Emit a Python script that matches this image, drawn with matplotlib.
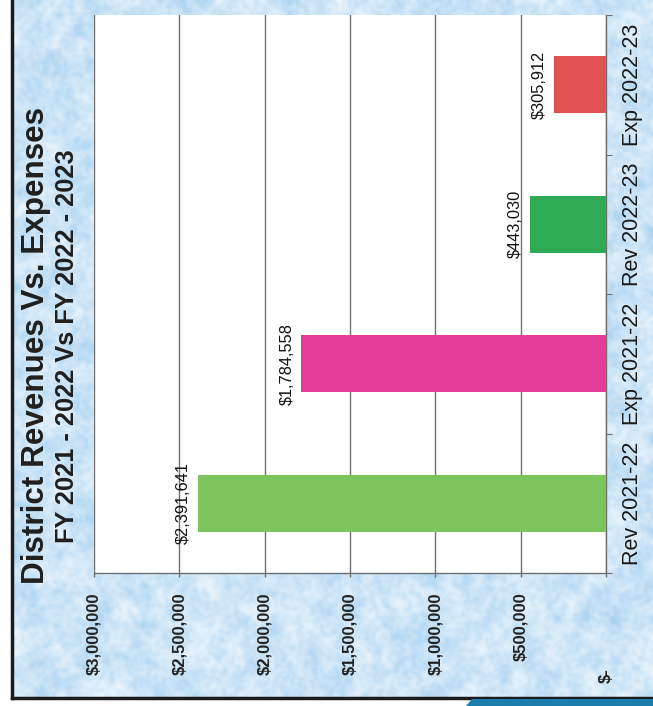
import numpy as np
import matplotlib.pyplot as plt
from matplotlib.colors import LinearSegmentedColormap
from matplotlib.patches import Polygon
from matplotlib.ticker import FuncFormatter, MultipleLocator

plt.rcParams['font.family'] = ['Liberation Sans', 'DejaVu Sans']

categories = ["Rev 2021-22", "Exp 2021-22", "Rev 2022-23", "Exp 2022-23"]
amounts = [2391641, 1784558, 443030, 305912]
bar_colors = ["#7CC45B", "#E43D97", "#2EAA55", "#E05252"]

title = "District Revenues Vs. Expenses"
subtitle = "FY 2021 - 2022 Vs FY 2022 - 2023"

W, H = 653, 706
fig = plt.figure(figsize=(W / 100, H / 100), dpi=100)
fig.patch.set_facecolor("white")

# tissue-paper style backdrop for the slide panel
rng = np.random.default_rng(7)
paper = LinearSegmentedColormap.from_list(
    "paper", ["#FBFDFF", "#CDE5F7", "#96C9EE"])
bg = fig.add_axes([12 / W, 1 - 698 / H, 1 - 12 / W, 698 / H], zorder=-5)
bg.imshow(rng.random((70, 64)), cmap=paper, interpolation="bicubic",
          aspect="auto", extent=(0, 1, 0, 1), vmin=-0.05, vmax=1.05)
bg.imshow(rng.random((230, 210)), cmap=paper, interpolation="bicubic",
          aspect="auto", extent=(0, 1, 0, 1), alpha=0.4)
bg.set_xlim(0, 1)
bg.set_ylim(0, 1)
bg.set_axis_off()

fig.add_artist(plt.Line2D([12 / W, 12 / W], [1 - 698 / H, 1],
                          transform=fig.transFigure, color="#1c1c1c", lw=2.5,
                          zorder=-1))
fig.add_artist(plt.Line2D([12 / W, 1], [1 - 698 / H, 1 - 698 / H],
                          transform=fig.transFigure, color="#1c1c1c", lw=2.5,
                          zorder=-1))
# teal band at the bottom right corner
fig.patches.append(Polygon([(472 / W, 1 - 699 / H), (1, 1 - 699 / H),
                            (1, 0), (466 / W, 0)],
                           closed=True, transform=fig.transFigure,
                           facecolor="#1B7DAE", edgecolor="none", zorder=-1))

ax = fig.add_axes([94 / W, 1 - 573 / H, 512 / W, 558 / H])
ax.set_zorder(1)
ax.set_facecolor("white")

ypos = list(range(len(categories)))
ax.barh(ypos, amounts, height=0.41, color=bar_colors, zorder=3)

ax.set_xlim(3000000, 0)
ax.set_ylim(-0.5, len(categories) - 0.5)

ax.xaxis.set_major_locator(MultipleLocator(500000))


def money(v, pos):
    if v == 0:
        return ""
    return f"${v:,.0f}"


ax.xaxis.set_major_formatter(FuncFormatter(money))
ax.tick_params(axis="x", direction="out", length=3, width=1, color="#6f6f6f",
               pad=10.7, labelsize=12, labelrotation=90)
for lbl in ax.get_xticklabels():
    lbl.set_fontweight("bold")
    lbl.set_color("#222222")
ax.annotate("$-", xy=(0, 0), xycoords=("data", "axes fraction"),
            xytext=(0, -95), textcoords="offset pixels", rotation=90,
            ha="center", va="top", fontsize=12, fontweight="bold",
            color="#222222", annotation_clip=False)

ax.grid(axis="x", color="#6f6f6f", lw=1, zorder=1)

# category axis on the right, boundary ticks plus centred labels
ax.yaxis.tick_right()
ax.set_yticks([i - 0.5 for i in range(len(categories) + 1)])
ax.set_yticklabels([])
ax.set_yticks(ypos, minor=True)
ax.set_yticklabels(categories, minor=True, rotation=90, va="center",
                   fontsize=15.5, color="#1a1a1a")
ax.tick_params(axis="y", which="major", direction="out", length=4,
               color="#6f6f6f")
ax.tick_params(axis="y", which="minor", length=0, pad=11.5)

for side in ["top", "left"]:
    ax.spines[side].set_visible(False)
for side in ["bottom", "right"]:
    ax.spines[side].set_color("#6f6f6f")
    ax.spines[side].set_linewidth(1)

for y, v in zip(ypos, amounts):
    ax.annotate(f"${v:,.0f}", xy=(v, y), xytext=(-7, 0),
                textcoords="offset pixels", rotation=90, ha="right",
                va="center", fontsize=11.8, color="#111111", zorder=4)

fig.text(36.5 / W, 1 - 346 / H, title, rotation=90, ha="center", va="center",
         fontsize=22.6, fontweight="bold", color="#1f1f1f")
fig.text(67.5 / W, 1 - 346 / H, subtitle, rotation=90, ha="center",
         va="center", fontsize=18.3, fontweight="bold", color="#1f1f1f")

fig.savefig("out.png", dpi=100)
